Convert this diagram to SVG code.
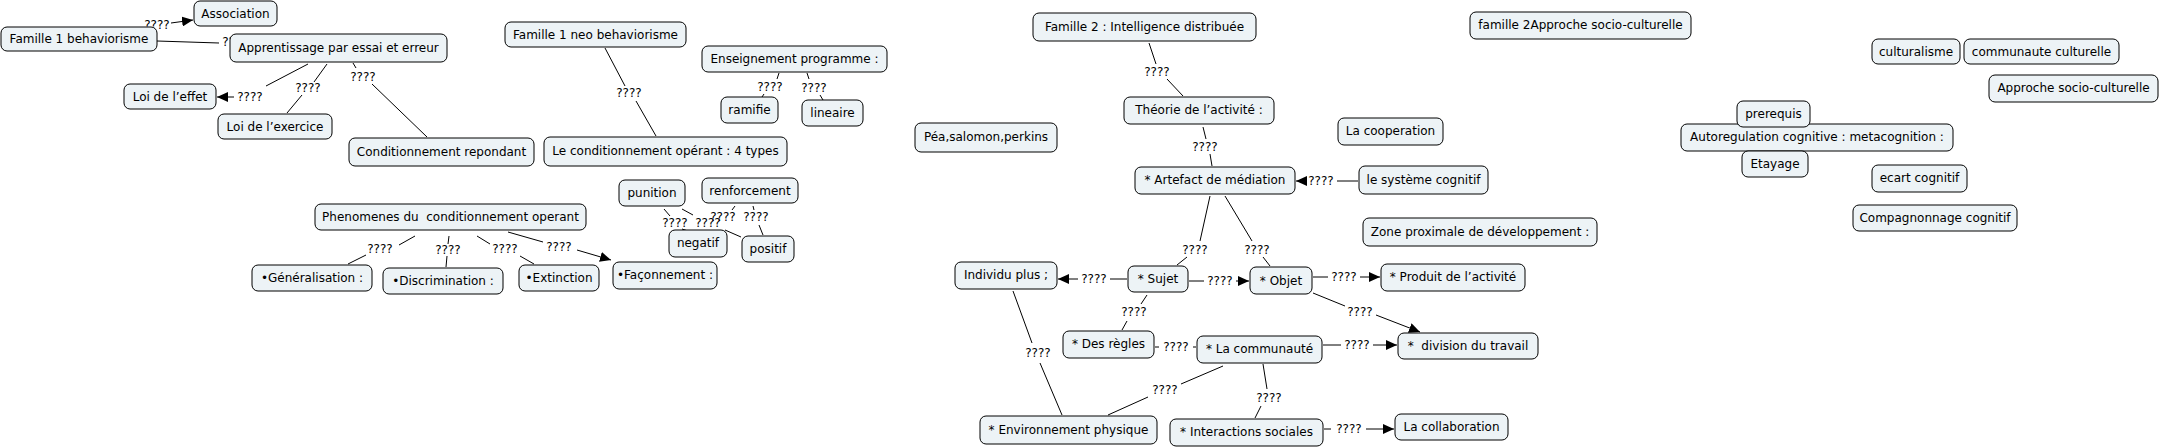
<svg xmlns="http://www.w3.org/2000/svg" width="2160" height="448" viewBox="0 0 2160 448">
<style>
.n rect{fill:#edf3f6;stroke:#000;stroke-width:1}
.n text{font-family:"DejaVu Sans",Verdana,sans-serif;font-size:12px;fill:#000;text-anchor:middle}
.c line{stroke:#000;stroke-width:1}
.c .a{marker-end:url(#ah)}
.c text{font-family:"DejaVu Sans",Verdana,sans-serif;font-size:12px;fill:#000;text-anchor:middle}
</style>
<defs>
<marker id="ah" markerUnits="userSpaceOnUse" markerWidth="12" markerHeight="10" refX="11" refY="5" orient="auto"><path d="M0,0 L11,5 L0,10 Z" fill="#000"/></marker>
</defs>
<rect width="2160" height="448" fill="#fff"/>
<g id="connectors" class="c">
<line x1="171" y1="23" x2="193" y2="20" class="a"/><text x="157" y="29">????</text>
<line x1="157" y1="41" x2="219" y2="43"/><text x="235" y="46">????</text>
<line x1="308" y1="64" x2="266" y2="86"/><line x1="234" y1="97" x2="217" y2="97" class="a"/><text x="250" y="101">????</text>
<line x1="327" y1="64" x2="314" y2="82"/><line x1="302" y1="95" x2="287" y2="113"/><text x="308" y="92">????</text>
<line x1="353" y1="63" x2="356" y2="68"/><line x1="372" y1="84" x2="427" y2="137"/><text x="363" y="81">????</text>
<line x1="605" y1="48" x2="625" y2="86"/><line x1="636" y1="101" x2="656" y2="136"/><text x="629" y="97">????</text>
<line x1="779" y1="73" x2="777" y2="79"/><line x1="764" y1="94" x2="762" y2="97"/><text x="770" y="91">????</text>
<line x1="807" y1="73" x2="809" y2="79"/><line x1="820" y1="95" x2="823" y2="100"/><text x="814" y="92">????</text>
<line x1="415" y1="236" x2="399" y2="245"/><line x1="366" y1="255" x2="348" y2="264"/><text x="380" y="253">????</text>
<line x1="449" y1="236" x2="448" y2="244"/><line x1="447" y1="256" x2="446" y2="267"/><text x="448" y="254">????</text>
<line x1="477" y1="236" x2="490" y2="244"/><line x1="520" y1="256" x2="534" y2="264"/><text x="505" y="253">????</text>
<line x1="508" y1="232" x2="543" y2="242"/><line x1="577" y1="250" x2="611" y2="260" class="a"/><text x="559" y="251">????</text>
<line x1="664" y1="209" x2="670" y2="216"/><line x1="682" y1="229" x2="688" y2="231"/><text x="675" y="227">????</text>
<line x1="682" y1="209" x2="693" y2="215"/><line x1="725" y1="230" x2="741" y2="237"/><text x="708" y="227">????</text>
<line x1="735" y1="206" x2="732" y2="210"/><text x="723" y="221">????</text>
<line x1="753" y1="206" x2="754" y2="210"/><line x1="759" y1="225" x2="763" y2="235"/><text x="756" y="221">????</text>
<line x1="1149" y1="43" x2="1156" y2="64"/><line x1="1167" y1="79" x2="1183" y2="96"/><text x="1157" y="76">????</text>
<line x1="1203" y1="127" x2="1206" y2="139"/><line x1="1210" y1="154" x2="1212" y2="166"/><text x="1205" y="151">????</text>
<line x1="1358" y1="181" x2="1337" y2="181"/><line x1="1306" y1="181" x2="1296" y2="181" class="a"/><text x="1321" y="185">????</text>
<line x1="1210" y1="196" x2="1200" y2="241"/><line x1="1187" y1="257" x2="1177" y2="265"/><text x="1195" y="254">????</text>
<line x1="1225" y1="196" x2="1252" y2="241"/><line x1="1263" y1="257" x2="1270" y2="266"/><text x="1257" y="254">????</text>
<line x1="1127" y1="279" x2="1110" y2="279"/><line x1="1078" y1="279" x2="1058" y2="279" class="a"/><text x="1094" y="283">????</text>
<line x1="1189" y1="281" x2="1204" y2="281"/><line x1="1236" y1="281" x2="1249" y2="281" class="a"/><text x="1220" y="285">????</text>
<line x1="1313" y1="277" x2="1328" y2="277"/><line x1="1360" y1="277" x2="1380" y2="277" class="a"/><text x="1344" y="281">????</text>
<line x1="1313" y1="293" x2="1345" y2="306"/><line x1="1376" y1="315" x2="1420" y2="332" class="a"/><text x="1360" y="316">????</text>
<line x1="1323" y1="345" x2="1341" y2="345"/><line x1="1373" y1="345" x2="1397" y2="345" class="a"/><text x="1357" y="349">????</text>
<line x1="1147" y1="295" x2="1141" y2="304"/><line x1="1127" y1="321" x2="1122" y2="330"/><text x="1134" y="316">????</text>
<line x1="1155" y1="347" x2="1159" y2="347"/><line x1="1193" y1="347" x2="1196" y2="347"/><text x="1176" y="351">????</text>
<line x1="1013" y1="291" x2="1032" y2="343"/><line x1="1040" y1="363" x2="1062" y2="415"/><text x="1038" y="357">????</text>
<line x1="1223" y1="366" x2="1181" y2="384"/><line x1="1148" y1="397" x2="1108" y2="415"/><text x="1165" y="394">????</text>
<line x1="1263" y1="364" x2="1267" y2="389"/><line x1="1261" y1="406" x2="1255" y2="418"/><text x="1269" y="402">????</text>
<line x1="1324" y1="429" x2="1331" y2="429"/><line x1="1366" y1="429" x2="1394" y2="429" class="a"/><text x="1349" y="433">????</text>
</g>
<g id="n1" class="n"><rect x="194" y="1" width="83" height="25" rx="6"/><text x="235.5" y="18">Association</text></g>
<g id="n2" class="n"><rect x="1" y="27" width="156" height="24" rx="6"/><text x="79" y="43">Famille 1 behaviorisme</text></g>
<g id="n3" class="n"><rect x="230" y="34" width="217" height="28" rx="6"/><text x="338.5" y="52">Apprentissage par essai et erreur</text></g>
<g id="n4" class="n"><rect x="124" y="84" width="92" height="25" rx="6"/><text x="170" y="101">Loi de l’effet</text></g>
<g id="n5" class="n"><rect x="218" y="114" width="114" height="25" rx="6"/><text x="275" y="131">Loi de l’exercice</text></g>
<g id="n6" class="n"><rect x="349" y="138" width="185" height="28" rx="6"/><text x="441.5" y="156">Conditionnement repondant</text></g>
<g id="n7" class="n"><rect x="505" y="22" width="181" height="25" rx="6"/><text x="595.5" y="39">Famille 1 neo behaviorisme</text></g>
<g id="n8" class="n"><rect x="702" y="46" width="185" height="26" rx="6"/><text x="794.5" y="63">Enseignement programme :</text></g>
<g id="n9" class="n"><rect x="721" y="97" width="57" height="26" rx="6"/><text x="749.5" y="114">ramifie</text></g>
<g id="n10" class="n"><rect x="802" y="100" width="61" height="26" rx="6"/><text x="832.5" y="117">lineaire</text></g>
<g id="n11" class="n"><rect x="544" y="137" width="243" height="29" rx="6"/><text x="665.5" y="155">Le conditionnement opérant : 4 types</text></g>
<g id="n12" class="n"><rect x="619" y="180" width="66" height="26" rx="6"/><text x="652" y="197">punition</text></g>
<g id="n13" class="n"><rect x="702" y="178" width="96" height="25" rx="6"/><text x="750" y="195">renforcement</text></g>
<g id="n14" class="n"><rect x="669" y="230" width="58" height="27" rx="6"/><text x="698" y="247">negatif</text></g>
<g id="n15" class="n"><rect x="742" y="236" width="52" height="26" rx="6"/><text x="768" y="253">positif</text></g>
<g id="n16" class="n"><rect x="315" y="204" width="271" height="26" rx="6"/><text x="450.5" y="221" xml:space="preserve">Phenomenes du  conditionnement operant</text></g>
<g id="n17" class="n"><rect x="252" y="265" width="120" height="26" rx="6"/><text x="312" y="282">•Généralisation :</text></g>
<g id="n18" class="n"><rect x="383" y="268" width="120" height="26" rx="6"/><text x="443" y="285">•Discrimination :</text></g>
<g id="n19" class="n"><rect x="519" y="265" width="80" height="26" rx="6"/><text x="559" y="282">•Extinction</text></g>
<g id="n20" class="n"><rect x="613" y="262" width="104" height="27" rx="6"/><text x="665" y="279">•Façonnement :</text></g>
<g id="m1" class="n"><rect x="1033" y="13" width="223" height="28" rx="6"/><text x="1144.5" y="31">Famille 2 : Intelligence distribuée</text></g>
<g id="m2" class="n"><rect x="1124" y="97" width="150" height="27" rx="6"/><text x="1199" y="114">Théorie de l’activité :</text></g>
<g id="m3" class="n"><rect x="915" y="123" width="142" height="29" rx="6"/><text x="986" y="141">Péa,salomon,perkins</text></g>
<g id="m4" class="n"><rect x="1135" y="167" width="160" height="27" rx="6"/><text x="1215" y="184">* Artefact de médiation</text></g>
<g id="m5" class="n"><rect x="1338" y="118" width="105" height="27" rx="6"/><text x="1390.5" y="135">La cooperation</text></g>
<g id="m6" class="n"><rect x="1359" y="166" width="129" height="28" rx="6"/><text x="1423.5" y="184">le système cognitif</text></g>
<g id="m7" class="n"><rect x="1363" y="218" width="234" height="28" rx="6"/><text x="1480" y="236">Zone proximale de développement :</text></g>
<g id="m8" class="n"><rect x="955" y="262" width="102" height="27" rx="6"/><text x="1006" y="279">Individu plus ;</text></g>
<g id="m9" class="n"><rect x="1128" y="266" width="60" height="26" rx="6"/><text x="1158" y="283">* Sujet</text></g>
<g id="m10" class="n"><rect x="1250" y="267" width="62" height="27" rx="6"/><text x="1281" y="285">* Objet</text></g>
<g id="m11" class="n"><rect x="1381" y="264" width="144" height="27" rx="6"/><text x="1453" y="281">* Produit de l’activité</text></g>
<g id="m12" class="n"><rect x="1063" y="331" width="91" height="27" rx="6"/><text x="1108.5" y="348">* Des règles</text></g>
<g id="m13" class="n"><rect x="1197" y="336" width="125" height="27" rx="6"/><text x="1259.5" y="353">* La communauté</text></g>
<g id="m14" class="n"><rect x="1398" y="333" width="140" height="26" rx="6"/><text x="1468" y="350" xml:space="preserve">*  division du travail</text></g>
<g id="m15" class="n"><rect x="980" y="416" width="177" height="28" rx="6"/><text x="1068.5" y="434">* Environnement physique</text></g>
<g id="m16" class="n"><rect x="1170" y="419" width="153" height="27" rx="6"/><text x="1246.5" y="436">* Interactions sociales</text></g>
<g id="m17" class="n"><rect x="1395" y="414" width="113" height="26" rx="6"/><text x="1451.5" y="431">La collaboration</text></g>
<g id="r1" class="n"><rect x="1470" y="12" width="221" height="27" rx="6"/><text x="1580.5" y="29">famille 2Approche socio-culturelle</text></g>
<g id="r2" class="n"><rect x="1872" y="39" width="88" height="25" rx="6"/><text x="1916" y="56">culturalisme</text></g>
<g id="r3" class="n"><rect x="1964" y="39" width="155" height="25" rx="6"/><text x="2041.5" y="56">communaute culturelle</text></g>
<g id="r4" class="n"><rect x="1989" y="75" width="169" height="27" rx="6"/><text x="2073.5" y="92">Approche socio-culturelle</text></g>
<g id="r6" class="n"><rect x="1681" y="124" width="272" height="27" rx="6"/><text x="1817" y="141">Autoregulation cognitive : metacognition :</text></g>
<g id="r5" class="n"><rect x="1737" y="101" width="73" height="26" rx="6"/><text x="1773.5" y="118">prerequis</text></g>
<g id="r7" class="n"><rect x="1742" y="151" width="66" height="26" rx="6"/><text x="1775" y="168">Etayage</text></g>
<g id="r8" class="n"><rect x="1872" y="165" width="95" height="27" rx="6"/><text x="1919.5" y="182">ecart cognitif</text></g>
<g id="r9" class="n"><rect x="1853" y="205" width="164" height="26" rx="6"/><text x="1935" y="222">Compagnonnage cognitif</text></g>
</svg>
